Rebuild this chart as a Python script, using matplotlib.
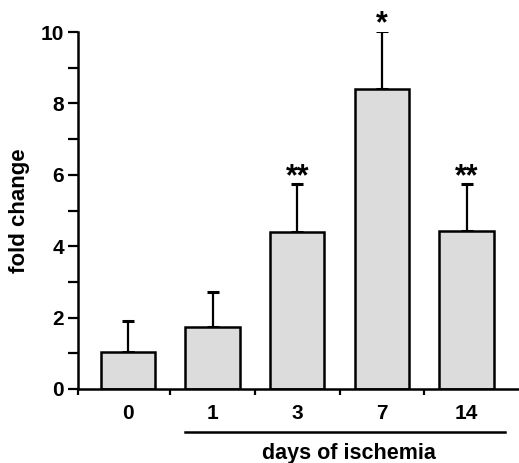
import matplotlib
matplotlib.use('Agg')
import matplotlib.pyplot as plt
import matplotlib.transforms as mtransforms

plt.rcParams['font.family'] = ['Liberation Sans', 'DejaVu Sans']
plt.rcParams['font.weight'] = 'bold'

days = ['0', '1', '3', '7', '14']
fold = [1.04, 1.73, 4.41, 8.40, 4.43]
err = [0.87, 0.99, 1.32, 1.63, 1.31]
stars = ['', '', '**', '*', '**']

fig = plt.figure(figsize=(5.19, 4.63), dpi=100)
ax = fig.add_axes([78/519, 74/463, 441/519, 357/463])

x = list(range(len(days)))
ax.bar(x, fold, width=0.64, color='#dcdcdc', edgecolor='black', linewidth=1.8, zorder=2)
ax.errorbar(x, fold, yerr=[[0]*len(err), err], fmt='none', ecolor='black',
            elinewidth=1.6, capsize=4, capthick=2.2, zorder=1)

# significance stars
for xi, f, e, s in zip(x, fold, err, stars):
    if s:
        ax.text(xi, f + e + 0.2, s, ha='center', va='center', fontsize=22,
                fontweight='bold', clip_on=False)

ax.set_xlim(-0.59, 4.62)
ax.set_ylim(0, 10)

for side in ['top', 'right']:
    ax.spines[side].set_visible(False)
ax.spines['left'].set_linewidth(1.8)
ax.spines['bottom'].set_linewidth(1.8)

ax.set_yticks([0, 2, 4, 6, 8, 10])
ax.set_yticks([1, 3, 5, 7, 9], minor=True)
ax.tick_params(axis='y', which='both', direction='out', length=7, width=1.6,
               labelsize=15, pad=3)

ax.set_xticks([-0.59, 0.5, 1.5, 2.5, 3.5])
ax.set_xticklabels([])
ax.set_xticks(x, minor=True)
ax.set_xticklabels(days, minor=True)
ax.tick_params(axis='x', which='major', direction='out', length=4, width=1.6)
ax.tick_params(axis='x', which='minor', length=0, labelsize=15, pad=11)

for lab in ax.get_xticklabels(minor=True) + ax.get_yticklabels():
    lab.set_fontweight('bold')

ax.set_ylabel('fold change', fontsize=16, fontweight='bold', labelpad=8)

trans = mtransforms.blended_transform_factory(ax.transData, ax.transAxes)
ax.plot([0.67, 4.45], [-0.12, -0.12], color='black', linewidth=1.8,
        transform=trans, clip_on=False)
ax.text(2.61, -0.18, 'days of ischemia', transform=trans, ha='center', va='center',
        fontsize=15.5, fontweight='bold')

fig.savefig('out.png', dpi=100)
